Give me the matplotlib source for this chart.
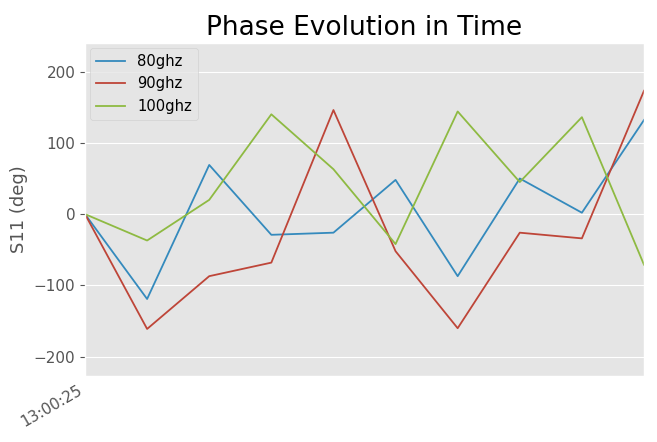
import matplotlib
matplotlib.use("Agg")
import matplotlib.pyplot as plt

plt.style.use("ggplot")

x = list(range(10))
tick_labels = ["13:00:25"]
s80 = [0, -119, 69, -29, -26, 48, -87, 50, 2, 132]
s90 = [0, -161, -87, -68, 146, -52, -160, -26, -34, 173]
s100 = [0, -37, 20, 140, 63, -42, 144, 45, 136, -71]

fig = plt.figure(figsize=(6.57, 4.42), dpi=100)
ax = fig.add_axes([85/657, 1-376/442, (644-85)/657, (376-43)/442])
ax.plot(x, s80, color="#348ABD", lw=1.3, label="80ghz")
ax.plot(x, s90, color="#BE4538", lw=1.3, label="90ghz")
ax.plot(x, s100, color="#8EBA42", lw=1.3, label="100ghz")
ax.set_xlim(0, 9)
ax.set_ylim(-227, 240)
ax.set_yticks([-200, -100, 0, 100, 200])
ax.set_xticks([0])
ax.set_xticklabels(tick_labels, rotation=30, ha="right", fontsize=11)
ax.tick_params(axis="x", length=0, pad=5)
ax.tick_params(axis="y", labelsize=11)
ax.grid(axis="x", visible=False)
ax.set_ylabel("S11 (deg)", fontsize=13)
ax.set_title("Phase Evolution in Time", fontsize=19, color="black")
leg = ax.legend(loc="upper left", fontsize=10.6, borderaxespad=0.35)
for t in leg.get_texts():
    t.set_color("black")
fig.savefig("out.png", dpi=100)
